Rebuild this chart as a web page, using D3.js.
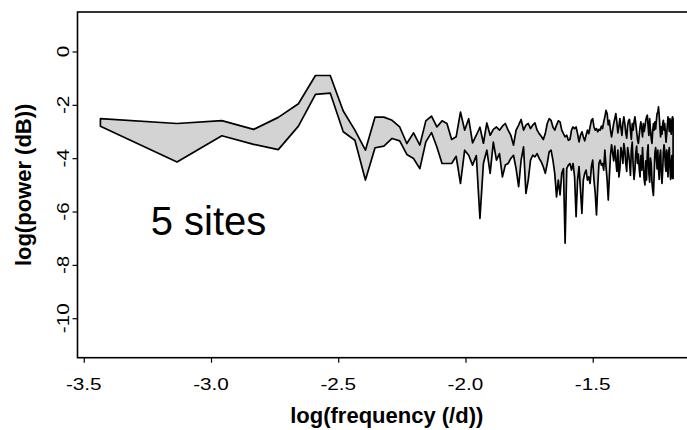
<!DOCTYPE html>
<html>
<head>
<meta charset="utf-8">
<script src="https://cdn.jsdelivr.net/npm/d3@7"></script>
<style>
  body { margin: 0; background: #fff; }
  svg { display: block; font-family: "Liberation Sans", Arial, sans-serif; }
</style>
</head>
<body>
<svg id="chart" width="687" height="430"></svg>
<script>
// periodogram band, 5 sites -- Fourier frequencies k / nDays
var nDays = 2720;

var upperPower = [
    -2.52, -2.70, -2.59, -2.92, -2.47, -1.96, -0.90, -0.90, -2.23, -2.95,
    -3.70, -2.46, -2.46, -2.58, -2.83, -3.45, -3.05, -3.51, -2.60, -2.42,
    -2.83, -2.60, -2.70, -3.30, -3.20, -2.27, -2.95, -2.52, -3.43, -3.14,
    -2.84, -3.44, -2.68, -3.14, -2.92,
    -2.83, -2.95, -2.80, -2.70, -2.95, -3.14, -3.51, -2.95, -2.76, -2.55,
    -2.95, -2.76, -2.70, -2.89, -2.76, -2.68, -2.95, -3.08, -3.18, -3.30,
    -3.08, -2.70, -2.52, -2.58, -2.83, -2.95, -2.76, -2.60, -2.64, -2.95,
    -3.08, -3.20, -3.14, -3.33, -3.30, -2.95, -2.83, -2.89, -2.83, -3.08,
    -3.39, -3.14, -3.01, -3.20, -3.35, -3.14, -2.95, -3.08, -2.83, -2.58,
    -2.52, -2.83, -2.95, -2.89, -3.01, -2.92, -2.95, -2.80, -2.89, -2.64,
    -2.45, -2.21, -2.33, -2.75, -2.58, -2.95, -3.20, -2.95, -2.70, -2.52,
    -2.33, -2.64, -3.05, -2.83, -2.52, -2.85, -3.15, -2.70, -2.45, -2.70,
    -3.05, -3.25, -2.76, -2.58, -2.55, -2.95, -3.30, -2.70, -2.95, -2.64,
    -2.45, -2.70, -3.00, -3.30, -3.45, -3.14, -2.83, -2.64, -2.90, -3.20,
    -2.70, -3.00, -2.83, -2.58, -2.45, -2.39, -2.80, -3.15, -2.52, -2.90,
    -3.25, -3.45, -3.00, -2.70, -2.95, -2.64, -2.90, -2.58, -2.33, -2.27,
    -2.08, -2.40, -2.85, -3.20, -2.83, -3.10, -2.70, -2.58, -2.95, -2.70,
    -3.05, -3.40, -3.10, -2.76, -2.45, -2.70, -3.00, -2.52, -2.80, -3.10,
    -2.58, -2.45, -2.52
];

var lowerPower = [
    -2.80, -4.14, -3.16, -3.48, -3.68, -2.80, -1.61, -1.56, -3.01, -3.33,
    -4.82, -3.61, -3.55, -3.26, -3.35, -3.86, -4.01, -4.39, -3.39, -3.04,
    -3.58, -4.20, -4.20, -4.20, -3.93, -4.95, -3.70, -3.89, -4.26, -3.90,
    -6.26, -4.19, -3.70, -4.57, -3.40,
    -4.07, -3.83, -4.70, -4.26, -4.20, -4.01, -3.89, -4.39, -5.07, -4.07,
    -3.58, -5.32, -4.82, -4.07, -3.89, -3.95, -3.83, -4.01, -4.14, -4.32,
    -4.57, -4.20, -3.76, -3.70, -4.07, -4.57, -5.45, -4.82, -5.38, -4.57,
    -4.39, -7.19, -4.39, -4.26, -4.20, -4.45, -4.20, -4.70, -6.19, -4.82,
    -4.32, -5.19, -6.07, -4.82, -4.57, -4.45, -4.82, -4.70, -4.95, -4.32,
    -4.07, -4.82, -5.32, -6.13, -5.07, -4.20, -4.07, -4.26, -4.20, -4.45,
    -3.70, -4.32, -4.82, -5.57, -4.70, -3.90, -3.50, -3.80, -4.10, -3.55,
    -4.07, -4.50, -3.70, -4.70, -4.39, -3.60, -3.80, -4.20, -3.45, -3.70,
    -4.20, -4.50, -3.60, -3.85, -4.14, -4.65, -3.70, -3.40, -4.26, -4.80,
    -4.45, -3.80, -3.55, -4.20, -3.85, -4.39, -4.70, -3.90, -4.45, -3.60,
    -4.26, -4.80, -5.00, -4.10, -4.82, -3.80, -3.50, -4.57, -4.90, -4.00,
    -4.20, -4.90, -5.20, -5.40, -4.60, -3.80, -3.60, -3.95, -4.40, -3.70,
    -4.40, -4.80, -3.90, -3.70, -4.57, -4.95, -4.45, -3.80, -3.50, -3.75,
    -4.30, -4.50, -3.70, -4.10, -4.70, -3.80, -3.60, -4.32, -4.80, -4.20,
    -3.90, -4.76, -4.76
];

var xTicks = [-3.5, -3.0, -2.5, -2.0, -1.5];
var yTicks = [0, -2, -4, -6, -8, -10];
var yLimits = [-11, 1];
var siteLabel = "5 sites";

var logFreq = upperPower.map(function (d, i) { return Math.log10((i + 1) / nDays); });

var band = logFreq.map(function (f, i) {
    return {f: f, hi: upperPower[i], lo: lowerPower[i]};
});

// plot region, right edge runs past the picture
var box = {left: 77.5, right: 696, top: 12, bottom: 357.7};

// R style 4% padding on the ranges
var pad = function (ext) {
    var r = ext[1] - ext[0];
    return [ext[0] - 0.04 * r, ext[1] + 0.04 * r];
};

var x = d3.scaleLinear().domain(pad(d3.extent(logFreq))).range([box.left, box.right]);
var y = d3.scaleLinear().domain(pad(yLimits)).range([box.bottom, box.top]);

var svg = d3.select("#chart");
var hyphen = function (s) { return s.replace("\u2212", "-"); };
var tickStretch = 1.22; // tick labels in the original are wide

var area = d3.area()
    .x(function (d) { return x(d.f); })
    .y0(function (d) { return y(d.lo); })
    .y1(function (d) { return y(d.hi); });

svg.append("path")
    .datum(band)
    .attr("d", area)
    .attr("fill", "#d3d3d3")
    .attr("stroke", "#000")
    .attr("stroke-width", 1.7)
    .attr("stroke-linejoin", "round");

svg.append("rect")
    .attr("x", box.left).attr("y", box.top)
    .attr("width", box.right - box.left).attr("height", box.bottom - box.top)
    .attr("fill", "none").attr("stroke", "#000").attr("stroke-width", 1.6);

// axes: ticks from d3, labels placed by hand
var gx = svg.append("g").attr("transform", "translate(0," + box.bottom + ")")
    .call(d3.axisBottom(x).tickValues(xTicks).tickSize(5).tickFormat(""));
var gy = svg.append("g").attr("transform", "translate(" + box.left + ",0)")
    .call(d3.axisLeft(y).tickValues(yTicks).tickSize(5).tickFormat(""));
[gx, gy].forEach(function (g) {
    g.select(".domain").remove();
    g.selectAll("line").attr("stroke-width", 1.2);
});

svg.selectAll(".xlab")
    .data(xTicks)
    .enter().append("text")
    .attr("class", "xlab")
    .attr("transform", function (d) { return "translate(" + x(d) + ",390) scale(" + tickStretch + ",1)"; })
    .attr("text-anchor", "middle")
    .attr("font-size", 17)
    .text(function (d) { return hyphen(d3.format(".1f")(d)); });

svg.selectAll(".ylab")
    .data(yTicks)
    .enter().append("text")
    .attr("class", "ylab")
    .attr("transform", function (d) {
        return "translate(68.5," + y(d) + ") rotate(-90) scale(" + tickStretch + ",1)";
    })
    .attr("text-anchor", "middle")
    .attr("font-size", 17)
    .text(function (d) { return hyphen(d3.format("d")(d)); });

// titles
svg.append("text")
    .attr("x", (box.left + box.right) / 2).attr("y", 423)
    .attr("text-anchor", "middle")
    .attr("font-size", 22).attr("font-weight", "bold")
    .text("log(frequency (/d))");

svg.append("text")
    .attr("transform", "translate(31," + (box.top + box.bottom) / 2 + ") rotate(-90)")
    .attr("text-anchor", "middle")
    .attr("font-size", 22).attr("font-weight", "bold")
    .text("log(power (dB))");

svg.append("text")
    .attr("x", x(-3.01)).attr("y", y(-6.88))
    .attr("text-anchor", "middle")
    .attr("font-size", 40)
    .text(siteLabel);
</script>
</body>
</html>
